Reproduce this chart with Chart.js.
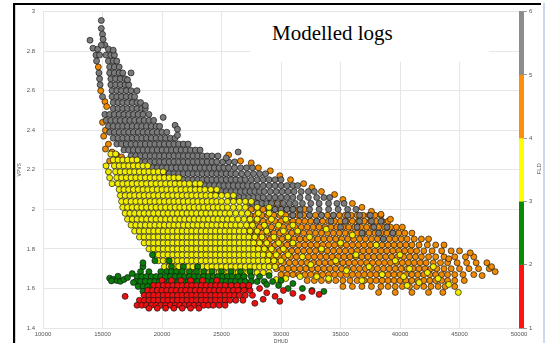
<!DOCTYPE html>
<html>
<head>
<meta charset="utf-8">
<script src="https://cdn.jsdelivr.net/npm/chart.js@4/dist/chart.umd.min.js"></script>
<style>
  html, body { margin: 0; padding: 0; background: #fff; overflow: hidden; }
  #wrap { position: relative; width: 547px; height: 343px; }
  #chart { position: absolute; left: 0; top: 0; }
  .frame-top { position: absolute; left: 13px; top: 3px; width: 528px; height: 2px; background: #000; }
  .frame-left { position: absolute; left: 13px; top: 3px; width: 2px; height: 340px; background: #000; }
  .frame-left-hi { position: absolute; left: 15px; top: 5px; width: 1px; height: 338px; background: #c6d6ea; }
  .frame-right { position: absolute; left: 543px; top: 3px; width: 2px; height: 340px; background: #c9d8ec; }
  #title { position: absolute; left: 250px; top: 12px; width: 239px; height: 50px; background: #fff; }
  #title span { position: absolute; left: 22px; top: 11px; font: 21px/1 "Liberation Serif", "Times New Roman", serif; color: #000; white-space: nowrap; }
</style>
</head>
<body>
<div id="wrap">
  <canvas id="chart" width="547" height="343"></canvas>
  <div id="title"><span>Modelled logs</span></div>
  <div class="frame-top"></div>
  <div class="frame-left"></div>
  <div class="frame-left-hi"></div>
  <div class="frame-right"></div>
</div>
<script>
// DHUD values are written in thousands, VPVS as is
// rows: [VPVS, [DHUD, DHUD, ...]]  extra points: [DHUD, VPVS]

// FLD 5-6 (gray)
const fld5Rows = [
  [2.78, [14.45, 14.75, 15.3, 15.7, 16.0]],
  [2.75, [14.5, 15.5, 15.9, 16.2]],
  [2.72, [15.6, 16.0, 16.4]],
  [2.69, [14.7, 15.6, 16.0, 16.4, 16.7]],
  [2.66, [14.75, 15.7, 16.1, 16.5, 16.9]],
  [2.63, [14.8, 15.7, 16.1, 16.5, 16.9, 17.2]],
  [2.60, [15.8, 16.2, 16.6, 17.0, 17.4]],
  [2.57, [15.0, 15.8, 16.2, 16.6, 17.0, 17.4, 17.7]],
  [2.54, [15.9, 16.3, 16.7, 17.1, 17.5, 17.9, 18.2]],
  [2.51, [15.9, 16.3, 16.7, 17.1, 17.5, 17.9, 18.3, 18.6]],
  [2.48, [15.2, 15.6, 16.0, 16.4, 16.8, 17.2, 17.6, 18.0, 18.4, 18.9]],
  [2.45, [15.3, 15.7, 16.1, 16.5, 16.9, 17.3, 17.7, 18.1, 18.5, 18.9, 19.3]],
  [2.42, [15.5, 15.9, 16.3, 16.7, 17.1, 17.5, 17.9, 18.3, 18.7, 19.1, 19.5, 19.8]],
  [2.39, [15.6, 16.0, 16.4, 16.8, 17.2, 17.6, 18.0, 18.4, 18.8, 19.2, 19.6, 20.0, 20.4]],
  [2.36, [15.9, 16.3, 16.7, 17.1, 17.5, 17.9, 18.3, 18.7, 19.1, 19.5, 19.9, 20.3, 20.7, 21.1]],
  [2.33, [16.2, 16.6, 17.0, 17.4, 17.8, 18.2, 18.6, 19.0, 19.4, 19.8, 20.2, 20.6, 21.0, 21.4, 21.8, 22.2]],
  [2.30, [16.8, 17.2, 17.6, 18.0, 18.4, 18.8, 19.2, 19.6, 20.0, 20.4, 20.8, 21.2, 21.6, 22.0, 22.4, 22.8, 23.2]],
  [2.27, [17.4, 17.8, 18.2, 18.6, 19.0, 19.4, 19.8, 20.2, 20.6, 21.0, 21.4, 21.8, 22.2, 22.6, 23.0, 23.4, 23.8, 24.2, 24.7]],
  [2.24, [18.2, 18.6, 19.0, 19.4, 19.8, 20.2, 20.6, 21.0, 21.4, 21.8, 22.2, 22.6, 23.0, 23.4, 23.8, 24.2, 24.6, 25.1, 25.6, 26.1]],
  [2.21, [19.2, 19.6, 20.0, 20.4, 20.8, 21.2, 21.6, 22.0, 22.4, 22.8, 23.2, 23.6, 24.0, 24.4, 24.8, 25.2, 25.6, 26.1, 26.6, 27.1, 27.6]],
  [2.18, [20.2, 20.6, 21.0, 21.4, 21.8, 22.2, 22.6, 23.0, 23.4, 23.8, 24.2, 24.6, 25.0, 25.4, 25.8, 26.2, 26.7, 27.2, 27.7, 28.2, 28.7]],
  [2.15, [21.4, 21.8, 22.2, 22.6, 23.0, 23.4, 23.8, 24.2, 24.6, 25.0, 25.4, 25.8, 26.2, 26.6, 27.0, 27.5, 28.0, 28.5, 29.0, 29.5, 30.0]],
  [2.12, [22.8, 23.2, 23.6, 24.0, 24.4, 24.8, 25.2, 25.6, 26.0, 26.4, 26.8, 27.2, 27.6, 28.0, 28.5, 29.0, 29.5, 30.0, 30.5, 31.0, 31.4]],
  [2.09, [24.2, 24.6, 25.0, 25.4, 25.8, 26.2, 26.6, 27.0, 27.4, 27.8, 28.2, 28.6, 29.1, 29.6, 30.1, 30.6, 31.1, 31.7, 32.3, 32.8]],
  [2.06, [25.7, 26.1, 26.5, 26.9, 27.3, 27.7, 28.1, 28.5, 29.0, 29.5, 30.0, 30.5, 31.0, 31.6, 32.3, 33.0, 33.6, 34.1]],
  [2.03, [27.2, 27.6, 28.0, 28.4, 28.8, 29.2, 29.7, 30.2, 30.7, 31.2, 31.8, 32.5, 33.2, 34.0, 34.7, 35.3]],
  [2.00, [29.0, 29.5, 30.0, 30.5, 31.0, 31.6, 32.4, 33.2, 34.0, 34.8, 35.6, 36.3]],
  [1.97, [31.0, 31.6, 32.4, 33.4, 34.4, 35.6, 36.6, 37.5]],
  [1.94, [33.0, 34.2, 35.4, 36.6, 37.6, 38.4]],
  [1.91, [35.0, 36.4, 37.8, 38.9]],
  [1.88, [36.8, 38.2, 39.4]],
  [1.85, [38.6]]
];
const fld5Pts = [
  [14.9, 2.955], [14.9, 2.915], [15.0, 2.885], [15.05, 2.86], [13.95, 2.855], [14.2, 2.815],
  [14.6, 2.81], [15.2, 2.83], [15.5, 2.81], [15.9, 2.805], [14.9, 2.83], [17.4, 2.69],
  [17.1, 2.655], [17.9, 2.60], [18.6, 2.525], [20.1, 2.465], [21.1, 2.425], [21.3, 2.405],
  [21.3, 2.375], [26.4, 2.29], [25.4, 2.26]
];

// FLD 4-5 (orange)
const fld4Rows = [
  [2.03, [28.0, 28.5, 29.0, 29.5, 30.0]],
  [2.00, [27.5, 28.0, 28.5, 29.0, 29.5, 30.0, 30.5, 31.0, 31.5, 32.0]],
  [1.97, [27.4, 27.9, 28.4, 28.9, 29.4, 29.9, 30.4, 30.9, 31.4, 31.9, 32.4, 32.9, 33.4, 33.9, 34.4, 34.9, 35.4, 35.9, 36.4, 36.9, 37.4, 37.9, 38.4]],
  [1.94, [27.5, 28.0, 28.5, 29.0, 29.5, 30.0, 30.5, 31.0, 31.5, 32.0, 32.5, 33.0, 33.5, 34.0, 34.5, 35.0, 35.5, 36.0, 36.5, 37.0, 37.5, 38.0, 38.5, 39.0]],
  [1.91, [27.2, 27.7, 28.2, 28.7, 29.2, 29.7, 30.2, 30.7, 31.2, 31.7, 32.2, 32.7, 33.2, 33.7, 34.2, 34.7, 35.2, 35.7, 36.2, 36.7, 37.2, 37.7, 38.2, 38.7, 39.2, 39.7, 40.2]],
  [1.88, [27.4, 27.9, 28.4, 28.9, 29.4, 29.9, 30.4, 30.9, 31.4, 31.9, 32.4, 32.9, 33.4, 33.9, 34.4, 34.9, 35.4, 35.9, 36.4, 36.9, 37.4, 37.9, 38.4, 38.9, 39.4, 39.9, 40.4, 41.0]],
  [1.85, [27.6, 28.1, 28.6, 29.1, 29.6, 30.1, 30.6, 31.1, 31.6, 32.1, 32.6, 33.1, 33.6, 34.1, 34.6, 35.1, 35.6, 36.1, 36.6, 37.1, 37.6, 38.1, 38.6, 39.1, 39.6, 40.1, 40.6, 41.2, 41.8, 42.4]],
  [1.82, [28.0, 28.5, 29.0, 29.5, 30.0, 30.5, 31.0, 31.5, 32.0, 32.5, 33.0, 33.5, 34.0, 34.5, 35.0, 35.5, 36.0, 36.5, 37.0, 37.5, 38.0, 38.5, 39.0, 39.5, 40.0, 40.5, 41.0, 41.6, 42.3, 43.0, 43.7]],
  [1.79, [28.4, 28.9, 29.4, 29.9, 30.4, 30.9, 31.4, 31.9, 32.4, 32.9, 33.4, 33.9, 34.4, 34.9, 35.4, 35.9, 36.4, 36.9, 37.4, 37.9, 38.4, 38.9, 39.4, 39.9, 40.4, 40.9, 41.4, 42.0, 42.7, 43.5, 44.3, 45.0]],
  [1.76, [28.8, 29.3, 29.8, 30.3, 30.8, 31.3, 31.8, 32.3, 32.8, 33.3, 33.8, 34.3, 34.8, 35.3, 35.8, 36.3, 36.8, 37.3, 37.8, 38.3, 38.8, 39.3, 39.8, 40.3, 40.8, 41.3, 41.8, 42.4, 43.0, 43.7, 44.6, 45.5, 46.2]],
  [1.73, [29.2, 29.7, 30.2, 30.7, 31.2, 31.7, 32.2, 32.7, 33.2, 33.7, 34.2, 34.7, 35.2, 35.7, 36.2, 36.7, 37.2, 37.7, 38.2, 38.7, 39.2, 39.7, 40.2, 40.7, 41.2, 41.7, 42.2, 42.8, 43.4, 44.0, 44.8, 45.6, 46.4, 47.3]],
  [1.70, [29.6, 30.1, 30.6, 31.1, 31.6, 32.1, 32.6, 33.1, 33.6, 34.1, 34.6, 35.1, 35.6, 36.1, 36.6, 37.1, 37.6, 38.1, 38.6, 39.1, 39.6, 40.1, 40.6, 41.1, 41.6, 42.1, 42.6, 43.1, 43.7, 44.3, 45.0, 45.8, 46.6, 47.5]],
  [1.67, [30.0, 30.5, 31.0, 31.5, 32.0, 32.5, 33.0, 33.5, 34.0, 34.5, 35.0, 35.5, 36.0, 36.5, 37.0, 37.5, 38.0, 38.5, 39.0, 39.5, 40.0, 40.5, 41.0, 41.5, 42.0, 42.5, 43.0, 43.5, 44.0, 44.6, 45.3, 46.2]],
  [1.64, [32.2, 32.8, 33.4, 34.0, 34.6, 35.2, 35.8, 36.4, 37.0, 37.5, 38.0, 38.5, 39.0, 39.5, 40.0, 40.5, 41.0, 41.5, 42.0, 42.5, 43.0, 43.5, 44.0, 44.6, 45.4]],
  [1.61, [35.2, 36.0, 36.8, 37.6, 38.4, 39.0, 39.6, 40.2, 40.8, 41.4, 42.0, 42.6, 43.2, 43.8, 44.6]],
  [1.58, [38.2, 39.6, 41.0, 42.4, 43.6]]
];
const fld4Pts = [
  [14.65, 2.72], [14.85, 2.60], [15.2, 2.545], [15.35, 2.52], [15.0, 2.44], [15.25, 2.40],
  [15.1, 2.37], [15.5, 2.33], [15.25, 2.305], [15.8, 2.29], [16.2, 2.275], [16.6, 2.265], [15.6, 2.245],
  [25.6, 2.275], [26.6, 2.245], [27.5, 2.235], [28.1, 2.21], [29.1, 2.195], [29.9, 2.17],
  [30.8, 2.15], [31.9, 2.13], [32.6, 2.11], [33.4, 2.09], [34.5, 2.075], [35.2, 2.05],
  [36.0, 2.03], [36.8, 2.01], [37.6, 1.99], [38.4, 1.975], [39.2, 1.95],
  [44.1, 1.75], [47.7, 1.71], [48.0, 1.685], [46.9, 1.665], [45.9, 1.78]
];

// FLD 3-4 (yellow)
const fld3Rows = [
  [2.28, [15.7, 16.1]],
  [2.25, [15.9, 16.3, 16.7, 17.1, 17.5, 17.9]],
  [2.22, [15.3, 16.0, 16.4, 16.8, 17.2, 17.6, 18.0, 18.4, 18.8]],
  [2.19, [15.5, 16.1, 16.5, 16.9, 17.3, 17.7, 18.1, 18.5, 18.9, 19.3, 19.7, 20.1]],
  [2.16, [15.6, 16.2, 16.6, 17.0, 17.4, 17.8, 18.2, 18.6, 19.0, 19.4, 19.8, 20.2, 20.6, 21.0, 21.4]],
  [2.13, [15.8, 16.3, 16.7, 17.1, 17.5, 17.9, 18.3, 18.7, 19.1, 19.5, 19.9, 20.3, 20.7, 21.1, 21.5, 21.9, 22.3, 22.8, 23.2]],
  [2.10, [16.4, 16.8, 17.2, 17.6, 18.0, 18.4, 18.8, 19.2, 19.6, 20.0, 20.4, 20.8, 21.2, 21.6, 22.0, 22.4, 22.8, 23.2, 23.6, 24.1, 24.6]],
  [2.07, [16.5, 16.9, 17.3, 17.7, 18.1, 18.5, 18.9, 19.3, 19.7, 20.1, 20.5, 20.9, 21.3, 21.7, 22.1, 22.5, 22.9, 23.3, 23.7, 24.1, 24.5, 25.0, 25.5, 26.0]],
  [2.04, [16.6, 17.0, 17.4, 17.8, 18.2, 18.6, 19.0, 19.4, 19.8, 20.2, 20.6, 21.0, 21.4, 21.8, 22.2, 22.6, 23.0, 23.4, 23.8, 24.2, 24.6, 25.0, 25.5, 26.0, 26.5, 27.0, 27.5]],
  [2.01, [16.7, 17.1, 17.5, 17.9, 18.3, 18.7, 19.1, 19.5, 19.9, 20.3, 20.7, 21.1, 21.5, 21.9, 22.3, 22.7, 23.1, 23.5, 23.9, 24.3, 24.7, 25.1, 25.5, 26.0, 26.5, 27.0, 28.0, 29.0]],
  [1.98, [16.9, 17.3, 17.7, 18.1, 18.5, 18.9, 19.3, 19.7, 20.1, 20.5, 20.9, 21.3, 21.7, 22.1, 22.5, 22.9, 23.3, 23.7, 24.1, 24.5, 24.9, 25.3, 25.7, 26.2, 26.7, 27.2, 28.1, 29.0, 30.0]],
  [1.95, [17.1, 17.5, 17.9, 18.3, 18.7, 19.1, 19.5, 19.9, 20.3, 20.7, 21.1, 21.5, 21.9, 22.3, 22.7, 23.1, 23.5, 23.9, 24.3, 24.7, 25.1, 25.5, 25.9, 26.4, 26.9, 27.4, 28.0, 29.2, 30.4]],
  [1.92, [17.4, 17.8, 18.2, 18.6, 19.0, 19.4, 19.8, 20.2, 20.6, 21.0, 21.4, 21.8, 22.2, 22.6, 23.0, 23.4, 23.8, 24.2, 24.6, 25.0, 25.4, 25.8, 26.2, 26.6, 27.1, 27.6, 28.6, 29.8, 31.0]],
  [1.89, [17.7, 18.1, 18.5, 18.9, 19.3, 19.7, 20.1, 20.5, 20.9, 21.3, 21.7, 22.1, 22.5, 22.9, 23.3, 23.7, 24.1, 24.5, 24.9, 25.3, 25.7, 26.1, 26.5, 26.9, 27.4, 28.0, 28.8, 30.2, 31.4]],
  [1.86, [18.1, 18.5, 18.9, 19.3, 19.7, 20.1, 20.5, 20.9, 21.3, 21.7, 22.1, 22.5, 22.9, 23.3, 23.7, 24.1, 24.5, 24.9, 25.3, 25.7, 26.1, 26.5, 26.9, 27.3, 27.8, 28.4, 29.4, 30.6]],
  [1.83, [18.5, 18.9, 19.3, 19.7, 20.1, 20.5, 20.9, 21.3, 21.7, 22.1, 22.5, 22.9, 23.3, 23.7, 24.1, 24.5, 24.9, 25.3, 25.7, 26.1, 26.5, 26.9, 27.3, 27.7, 28.2, 28.8, 29.8, 31.0]],
  [1.80, [18.9, 19.3, 19.7, 20.1, 20.5, 20.9, 21.3, 21.7, 22.1, 22.5, 22.9, 23.3, 23.7, 24.1, 24.5, 24.9, 25.3, 25.7, 26.1, 26.5, 26.9, 27.3, 27.7, 28.1, 28.6, 29.2, 30.2]],
  [1.77, [19.3, 19.7, 20.1, 20.5, 20.9, 21.3, 21.7, 22.1, 22.5, 22.9, 23.3, 23.7, 24.1, 24.5, 24.9, 25.3, 25.7, 26.1, 26.5, 26.9, 27.3, 27.7, 28.1, 28.5, 29.0, 29.6, 30.6]],
  [1.74, [19.7, 20.1, 20.5, 20.9, 21.3, 21.7, 22.1, 22.5, 22.9, 23.3, 23.7, 24.1, 24.5, 24.9, 25.3, 25.7, 26.1, 26.5, 26.9, 27.3, 27.7, 28.1, 28.5, 28.9, 29.4, 30.0]],
  [1.71, [20.2, 20.6, 21.0, 21.4, 21.8, 22.2, 22.6, 23.0, 23.4, 23.8, 24.2, 24.6, 25.0, 25.4, 25.8, 26.2, 26.6, 27.0, 27.4, 27.8, 28.2, 28.6, 29.0, 29.5]],
  [1.68, [21.6, 22.0, 22.4, 22.8, 23.2, 23.6, 24.0, 24.4, 24.8, 25.2, 25.6, 26.0, 26.4, 26.8, 27.2, 27.6, 28.0, 28.5, 29.0]]
];
const fld3Pts = [
  [31.8, 1.76], [32.5, 1.72], [33.4, 1.80], [34.6, 1.74], [35.5, 1.69], [36.3, 1.77], [37.4, 1.71],
  [38.5, 1.67], [39.6, 1.74], [40.3, 1.66], [40.8, 1.70], [41.6, 1.63], [42.3, 1.68], [43.2, 1.65],
  [44.1, 1.62], [44.9, 1.58], [33.0, 1.66], [34.0, 1.65], [36.8, 1.64], [31.6, 1.66], [32.4, 1.86],
  [35.0, 1.83], [30.4, 1.65], [29.6, 1.645], [40.0, 1.77], [40.6, 1.615], [33.8, 1.90], [36.0, 1.87],
  [38.0, 1.82], [42.8, 1.71]
];

// FLD 2-3 (green)
const fld2Rows = [
  [1.74, [19.4, 20.6]],
  [1.71, [18.4, 20.8, 21.8, 23.0]],
  [1.685, [18.2, 18.9, 19.9, 20.4, 20.8, 21.2, 21.7, 22.3, 22.9, 23.5, 24.2, 25.0, 25.8, 26.6, 27.4]],
  [1.66, [17.9, 18.3, 18.7, 19.1, 19.5, 19.9, 20.3, 20.7, 21.1, 21.5, 21.9, 22.3, 22.7, 23.1, 23.5, 23.9, 24.3, 24.7, 25.1, 25.5, 25.9, 26.4, 26.9, 27.5, 28.2]],
  [1.635, [17.8, 18.2, 18.6, 19.0, 19.4, 19.8, 20.2, 20.6, 21.0, 21.4, 21.8, 22.2, 22.6, 23.0, 23.4, 23.8, 24.2, 24.6, 25.0, 25.4, 25.8, 26.2, 26.6, 27.0, 27.5, 28.0, 28.6, 29.3]],
  [1.61, [18.0, 18.4, 18.8, 19.2, 19.6, 20.0, 20.4, 20.8, 21.2, 21.6, 22.0, 22.4, 22.8, 23.2, 23.6, 24.0, 24.4, 24.8, 25.2, 25.6, 26.0, 26.4, 26.8, 27.3]],
  [1.585, [18.4, 19.0, 19.6, 20.2, 20.8, 21.4, 22.0, 22.6, 23.2, 23.8, 24.4, 25.0, 25.6]]
];
const fld2Pts = [
  [15.6, 1.652], [15.9, 1.646], [16.2, 1.640], [16.5, 1.636], [16.8, 1.645], [17.1, 1.655],
  [17.5, 1.675], [17.6, 1.630], [16.3, 1.662], [15.75, 1.638], [18.4, 1.73], [19.2, 1.77],
  [29.0, 1.665], [30.0, 1.64], [31.0, 1.625], [31.8, 1.60], [32.6, 1.59], [33.6, 1.585],
  [30.6, 1.60], [28.8, 1.62], [29.8, 1.615]
];

// FLD 1-2 (red)
const fld1Rows = [
  [1.64, [20.0, 20.8, 21.6, 22.4, 23.4, 24.6]],
  [1.615, [19.3, 19.7, 20.1, 20.5, 20.9, 21.3, 21.7, 22.1, 22.5, 22.9, 23.3, 23.7, 24.1, 24.5, 24.9, 25.3, 25.8, 26.3, 26.8]],
  [1.59, [18.8, 19.2, 19.6, 20.0, 20.4, 20.8, 21.2, 21.6, 22.0, 22.4, 22.8, 23.2, 23.6, 24.0, 24.4, 24.8, 25.2, 25.6, 26.0, 26.4, 26.9, 27.4]],
  [1.565, [18.5, 18.9, 19.3, 19.7, 20.1, 20.5, 20.9, 21.3, 21.7, 22.1, 22.5, 22.9, 23.3, 23.7, 24.1, 24.5, 24.9, 25.3, 25.7, 26.1, 26.5, 27.0, 27.6]],
  [1.54, [18.1, 18.5, 18.9, 19.3, 19.7, 20.1, 20.5, 20.9, 21.3, 21.7, 22.1, 22.5, 22.9, 23.3, 23.7, 24.1, 24.5, 24.9, 25.3, 25.7, 26.2, 26.8]],
  [1.515, [17.9, 18.3, 18.7, 19.1, 19.5, 19.9, 20.3, 20.7, 21.1, 21.5, 21.9, 22.3, 22.7, 23.1, 23.5, 23.9, 24.3, 24.8, 25.3]],
  [1.50, [18.9, 19.6, 20.3, 21.0, 21.7, 22.4, 23.1]]
];
const fld1Pts = [
  [16.9, 1.56], [28.2, 1.60], [28.8, 1.578], [29.5, 1.56], [30.2, 1.59], [31.0, 1.575],
  [31.8, 1.555], [32.6, 1.585], [33.2, 1.57], [28.5, 1.545], [29.9, 1.535], [27.8, 1.525], [27.3, 1.615]
];

// colour scale
const fldEdges = [1, 2, 3, 4, 5, 6];
const fldBarColors = ['#ff1212', '#078a07', '#ffff00', '#ff8c0a', '#8c8c8c'];
const fldDotColors = ['#ee1010', '#0a7d0a', '#f2ee00', '#f08a00', '#7a7a7a'];

function toPoints(rows, extra) {
  const pts = [];
  rows.forEach(([y, xs]) => xs.forEach(x => pts.push({ x: x * 1000, y })));
  extra.forEach(([x, y]) => pts.push({ x: x * 1000, y }));
  return pts;
}

// drawing order: lower "order" is painted on top
const classes = [
  { label: '1-2', data: toPoints(fld1Rows, fld1Pts), color: fldDotColors[0], order: 1 },
  { label: '2-3', data: toPoints(fld2Rows, fld2Pts), color: fldDotColors[1], order: 2 },
  { label: '3-4', data: toPoints(fld3Rows, fld3Pts), color: fldDotColors[2], order: 3 },
  { label: '5-6', data: toPoints(fld5Rows, fld5Pts), color: fldDotColors[4], order: 4 },
  { label: '4-5', data: toPoints(fld4Rows, fld4Pts), color: fldDotColors[3], order: 5 }
];

const tickFont = { family: 'Liberation Sans, Arial, sans-serif', size: 6 };
const titleFont = { family: 'Liberation Sans, Arial, sans-serif', size: 5 };

// colour bar next to the FLD axis
const colorBar = {
  id: 'colorBar',
  afterDraw(chart) {
    const s = chart.scales.fld;
    const ctx = chart.ctx;
    ctx.save();
    fldBarColors.forEach((c, i) => {
      const yTop = s.getPixelForValue(fldEdges[i + 1]);
      const yBot = s.getPixelForValue(fldEdges[i]);
      ctx.fillStyle = c;
      ctx.fillRect(s.left, yTop, 5, yBot - yTop);
    });
    ctx.translate(s.left + 20, (s.top + s.bottom) / 2 - 1);
    ctx.rotate(-Math.PI / 2);
    ctx.fillStyle = '#555';
    ctx.font = '6px "Liberation Sans", Arial, sans-serif';
    ctx.textAlign = 'center';
    ctx.textBaseline = 'middle';
    ctx.fillText('FLD', 0, 0);
    ctx.restore();
  }
};

new Chart(document.getElementById('chart'), {
  type: 'scatter',
  data: {
    datasets: classes.map(c => ({
      label: c.label,
      data: c.data,
      order: c.order,
      backgroundColor: c.color,
      borderColor: 'rgba(20,20,20,0.85)',
      borderWidth: 0.8,
      pointRadius: 3.0
    }))
  },
  options: {
    responsive: false,
    animation: false,
    events: [],
    layout: { padding: { top: 10, left: 0, right: 0, bottom: 0 } },
    plugins: { legend: { display: false }, tooltip: { enabled: false } },
    scales: {
      x: {
        type: 'linear', min: 10000, max: 50000,
        ticks: { stepSize: 5000, padding: 3, color: '#555', font: tickFont, maxRotation: 0, callback: v => String(v) },
        grid: { color: '#e6e6e6', drawTicks: false },
        border: { display: false },
        title: { display: true, text: 'DHUD', color: '#555', font: titleFont, padding: { top: 0, bottom: -2 } },
        afterFit: s => { s.height = 15; }
      },
      y: {
        type: 'linear', min: 1.4, max: 3,
        ticks: { stepSize: 0.2, padding: 8, color: '#555', font: tickFont, callback: v => String(Math.round(v * 10) / 10) },
        grid: { color: '#e6e6e6', drawTicks: false },
        border: { display: false },
        title: { display: true, text: 'VPVS', color: '#555', font: titleFont, padding: { top: 17, bottom: 0 } },
        afterFit: s => { s.width = 43; }
      },
      fld: {
        type: 'linear', axis: 'y', position: 'right', min: 1, max: 6,
        ticks: { stepSize: 1, padding: 2, color: '#555', font: tickFont },
        grid: { drawOnChartArea: false, drawTicks: true, tickLength: 8, color: '#999' },
        border: { display: false },
        afterFit: s => { s.width = 28; }
      }
    }
  },
  plugins: [colorBar]
});
</script>
</body>
</html>
